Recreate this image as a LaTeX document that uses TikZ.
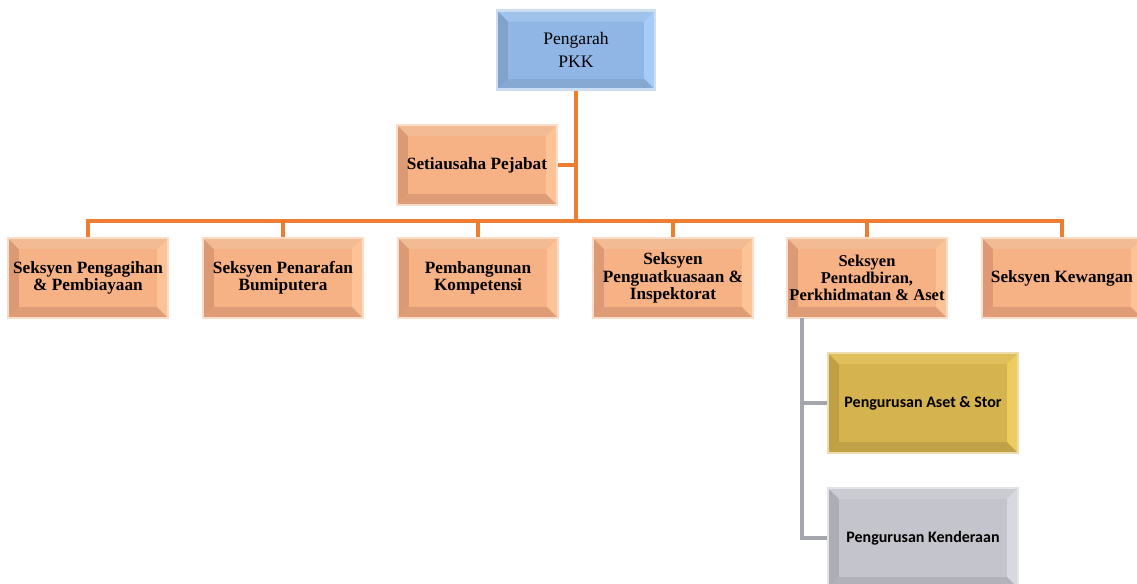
\documentclass[tikz,border=0pt]{standalone}
\usepackage{fontspec}
\setmainfont{Liberation Serif}
\newfontfamily\calibri{Carlito}
\usetikzlibrary{positioning}

\definecolor{orgline}{HTML}{ED7D31}
\definecolor{greyline}{HTML}{A5A5AD}
\definecolor{orgface}{HTML}{F6B185}
\definecolor{orgleft}{HTML}{DC9A74}
\definecolor{orgtop}{HTML}{F2BB94}
\definecolor{orgright}{HTML}{FBC396}
\definecolor{orgbot}{HTML}{DE9D77}
\definecolor{blueface}{HTML}{8FB6E4}
\definecolor{blueleft}{HTML}{80A2CB}
\definecolor{bluetop}{HTML}{A0C3EC}
\definecolor{blueright}{HTML}{A6CDF8}
\definecolor{bluebot}{HTML}{86A9D4}
\definecolor{goldface}{HTML}{D5B34E}
\definecolor{goldleft}{HTML}{BFA044}
\definecolor{goldtop}{HTML}{E0C05C}
\definecolor{goldright}{HTML}{ECCD5E}
\definecolor{goldbot}{HTML}{C2A246}
\definecolor{greyface}{HTML}{C4C4CC}
\definecolor{greyleft}{HTML}{ADADB5}
\definecolor{greytop}{HTML}{CBCBD2}
\definecolor{greyright}{HTML}{D8D8E0}
\definecolor{greybot}{HTML}{B2B2BA}

\begin{document}
\begin{tikzpicture}[x=0.02cm,y=-0.02cm,
    bevel/.style n args={5}{draw=#1!45!white, line width=1.2pt, fill=#1,
        align=center, inner sep=2pt,
        path picture={
            \coordinate (pnw) at (path picture bounding box.north west);
            \coordinate (pne) at (path picture bounding box.north east);
            \coordinate (psw) at (path picture bounding box.south west);
            \coordinate (pse) at (path picture bounding box.south east);
            \fill[#2] (psw) -- (pnw) -- ([shift={(0.22cm,-0.22cm)}]pnw) -- ([shift={(0.22cm,0.22cm)}]psw) -- cycle;
            \fill[#3] (pnw) -- (pne) -- ([shift={(-0.22cm,-0.22cm)}]pne) -- ([shift={(0.22cm,-0.22cm)}]pnw) -- cycle;
            \fill[#4] (pne) -- (pse) -- ([shift={(-0.22cm,0.22cm)}]pse) -- ([shift={(-0.22cm,-0.22cm)}]pne) -- cycle;
            \fill[#5] (pse) -- (psw) -- ([shift={(0.22cm,0.22cm)}]psw) -- ([shift={(-0.22cm,0.22cm)}]pse) -- cycle;
            \fill[#1] ([shift={(0.22cm,0.22cm)}]psw) rectangle ([shift={(-0.22cm,-0.22cm)}]pne);
        }},
    bluebox/.style={bevel={blueface}{blueleft}{bluetop}{blueright}{bluebot},
        minimum width=3.16cm, minimum height=1.58cm,
        font=\fontsize{10}{13.5}\selectfont},
    orangebox/.style={bevel={orgface}{orgleft}{orgtop}{orgright}{orgbot},
        minimum width=3.2cm, minimum height=1.6cm,
        font=\bfseries\fontsize{9.8}{9.8}\selectfont},
    goldbox/.style={bevel={goldface}{goldleft}{goldtop}{goldright}{goldbot},
        minimum width=3.8cm, minimum height=2cm,
        font=\calibri\bfseries\fontsize{9.1}{11}\selectfont},
    greybox/.style={bevel={greyface}{greyleft}{greytop}{greyright}{greybot},
        minimum width=3.8cm, minimum height=2cm,
        font=\calibri\bfseries\fontsize{9.1}{11}\selectfont},
    orgwire/.style={draw=orgline, line width=2pt},
    greywire/.style={draw=greyline, line width=2pt}]

    \useasboundingbox (0,0) rectangle (1137,583);

    \node[bluebox] (pengarah) at (576,50) {Pengarah\\PKK};
    \node[orangebox] (setiausaha) at (477,165) {Setiausaha Pejabat};

    \node[orangebox] (pengagihan) at (88,278) {Seksyen Pengagihan\\\& Pembiayaan};
    \node[orangebox] (penarafan) at (283,278) {Seksyen Penarafan\\Bumiputera};
    \node[orangebox] (kompetensi) at (478,278) {Pembangunan\\Kompetensi};
    \node[orangebox] (inspektorat) at (673,278) {Seksyen\\Penguatkuasaan \&\\Inspektorat};
    \node[orangebox, inner sep=0pt, font=\bfseries\fontsize{9.4}{9.8}\selectfont]
        (pentadbiran) at (867,278) {Seksyen\\Pentadbiran,\\Perkhidmatan \& Aset};
    \node[orangebox] (kewangan) at (1062,278) {Seksyen Kewangan};

    \node[goldbox] (stor) at (923,403) {Pengurusan Aset \& Stor};
    \node[greybox] (kenderaan) at (923,538) {Pengurusan Kenderaan};

    \coordinate (bus) at (576,221);
    \coordinate (trunk) at (802,318);

    \draw[orgwire] (pengarah) -- (bus);
    \draw[orgwire] (setiausaha) -- (setiausaha -| bus);
    \foreach \sek in {pengagihan,penarafan,kompetensi,inspektorat,pentadbiran,kewangan}
        \draw[orgwire] (bus) -| (\sek);

    \draw[greywire] (trunk) |- (stor);
    \draw[greywire] (trunk) |- (kenderaan);
\end{tikzpicture}
\end{document}
